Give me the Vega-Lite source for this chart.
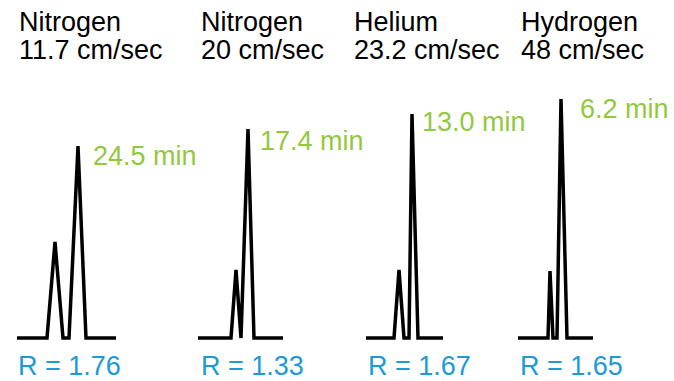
{
  "$schema": "https://vega.github.io/schema/vega-lite/v6.json",
  "width": 674,
  "height": 381,
  "autosize": "none",
  "padding": 0,
  "background": "white",
  "config": {"view": {"stroke": null}, "font": "Liberation Sans"},
  "datasets": {
    "trace": [
      {"panel": "N2 11.7", "t": 17, "signal": 0},
      {"panel": "N2 11.7", "t": 47, "signal": 0},
      {"panel": "N2 11.7", "t": 55, "signal": 96},
      {"panel": "N2 11.7", "t": 63, "signal": 0},
      {"panel": "N2 11.7", "t": 69, "signal": 0},
      {"panel": "N2 11.7", "t": 78, "signal": 192},
      {"panel": "N2 11.7", "t": 86, "signal": 0},
      {"panel": "N2 11.7", "t": 116, "signal": 0},
      {"panel": "N2 20", "t": 198, "signal": 0},
      {"panel": "N2 20", "t": 231, "signal": 0},
      {"panel": "N2 20", "t": 236, "signal": 68},
      {"panel": "N2 20", "t": 241, "signal": 0},
      {"panel": "N2 20", "t": 248, "signal": 209},
      {"panel": "N2 20", "t": 254, "signal": 0},
      {"panel": "N2 20", "t": 283, "signal": 0},
      {"panel": "He 23.2", "t": 366, "signal": 0},
      {"panel": "He 23.2", "t": 394, "signal": 0},
      {"panel": "He 23.2", "t": 399, "signal": 68},
      {"panel": "He 23.2", "t": 404, "signal": 0},
      {"panel": "He 23.2", "t": 409, "signal": 0},
      {"panel": "He 23.2", "t": 412, "signal": 224},
      {"panel": "He 23.2", "t": 418, "signal": 0},
      {"panel": "He 23.2", "t": 443, "signal": 0},
      {"panel": "H2 48", "t": 518, "signal": 0},
      {"panel": "H2 48", "t": 548, "signal": 0},
      {"panel": "H2 48", "t": 550, "signal": 67},
      {"panel": "H2 48", "t": 553, "signal": 0},
      {"panel": "H2 48", "t": 557, "signal": 0},
      {"panel": "H2 48", "t": 561, "signal": 239},
      {"panel": "H2 48", "t": 567, "signal": 0},
      {"panel": "H2 48", "t": 593, "signal": 0}
    ],
    "panels": [
      {"gas": "Nitrogen", "velocity": "11.7 cm/sec", "title_t": 19, "time": "24.5 min", "time_t": 93, "time_s": 173, "resolution": "R = 1.76", "r_t": 18},
      {"gas": "Nitrogen", "velocity": "20 cm/sec", "title_t": 201, "time": "17.4 min", "time_t": 260, "time_s": 188, "resolution": "R = 1.33", "r_t": 201},
      {"gas": "Helium", "velocity": "23.2 cm/sec", "title_t": 354, "time": "13.0 min", "time_t": 422, "time_s": 207, "resolution": "R = 1.67", "r_t": 368},
      {"gas": "Hydrogen", "velocity": "48 cm/sec", "title_t": 521, "time": "6.2 min", "time_t": 580, "time_s": 220, "resolution": "R = 1.65", "r_t": 520}
    ]
  },
  "layer": [
    {
      "data": {"name": "trace"},
      "mark": {"type": "line", "color": "black", "strokeWidth": 3.5, "strokeJoin": "miter", "strokeCap": "butt"},
      "encoding": {
        "x": {"field": "t", "type": "quantitative", "scale": {"domain": [0, 674], "nice": false, "zero": false}, "axis": null},
        "y": {"field": "signal", "type": "quantitative", "scale": {"domain": [-43, 338], "nice": false, "zero": false}, "axis": null},
        "detail": {"field": "panel"}
      }
    },
    {
      "data": {"name": "panels"},
      "mark": {"type": "text", "align": "left", "baseline": "alphabetic", "fontSize": 27, "color": "black"},
      "encoding": {
        "x": {"field": "title_t", "type": "quantitative", "axis": null},
        "y": {"datum": 307, "axis": null},
        "text": {"field": "gas"}
      }
    },
    {
      "data": {"name": "panels"},
      "mark": {"type": "text", "align": "left", "baseline": "alphabetic", "fontSize": 27, "color": "black"},
      "encoding": {
        "x": {"field": "title_t", "type": "quantitative", "axis": null},
        "y": {"datum": 279, "axis": null},
        "text": {"field": "velocity"}
      }
    },
    {
      "data": {"name": "panels"},
      "mark": {"type": "text", "align": "left", "baseline": "alphabetic", "fontSize": 27, "color": "#92C83E"},
      "encoding": {
        "x": {"field": "time_t", "type": "quantitative", "axis": null},
        "y": {"field": "time_s", "type": "quantitative", "axis": null},
        "text": {"field": "time"}
      }
    },
    {
      "data": {"name": "panels"},
      "mark": {"type": "text", "align": "left", "baseline": "alphabetic", "fontSize": 27, "color": "#1B9AD6"},
      "encoding": {
        "x": {"field": "r_t", "type": "quantitative", "axis": null},
        "y": {"datum": -37, "axis": null},
        "text": {"field": "resolution"}
      }
    }
  ]
}
